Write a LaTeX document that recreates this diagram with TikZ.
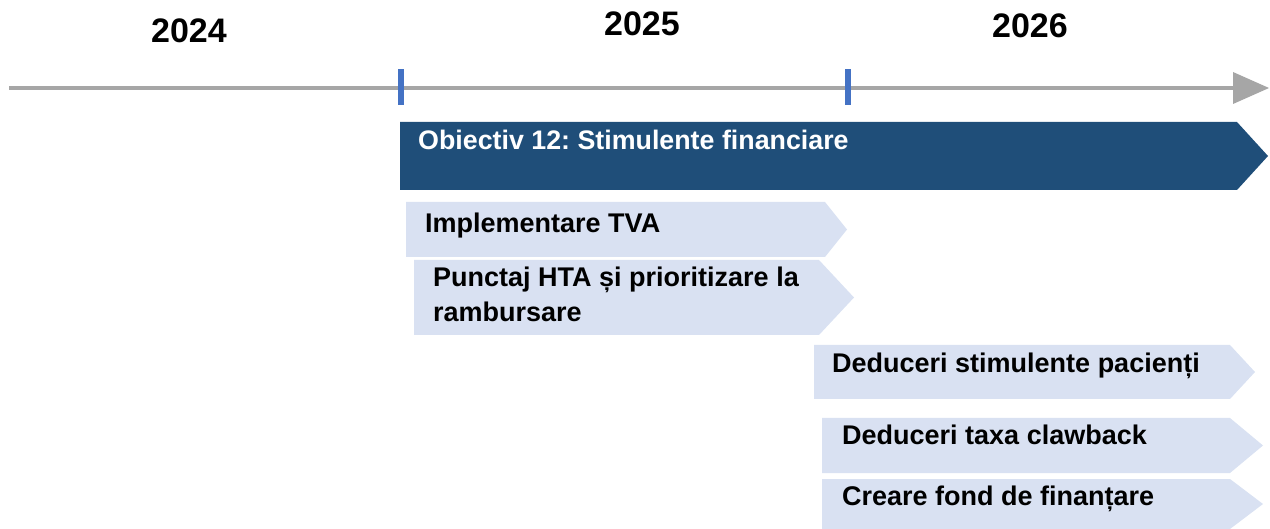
\documentclass[tikz,border=0pt]{standalone}
\usepackage{fontspec}
\setmainfont{Liberation Sans}
\frenchspacing
\definecolor{axisgray}{HTML}{A6A6A6}
\definecolor{tickblue}{HTML}{4472C4}
\definecolor{darkblue}{HTML}{1F4E79}
\definecolor{lightblue}{HTML}{D9E1F2}
\begin{document}
\begin{tikzpicture}[x=1pt,y=-1pt,
  year/.style={font=\fontsize{34}{40}\selectfont\bfseries, text=black, inner sep=0pt},
  task/.style={font=\fontsize{27}{35}\selectfont\bfseries, text=black, inner sep=0pt, anchor=base west, align=left},
  title/.style={font=\fontsize{26.8}{35}\selectfont\bfseries, text=white, inner sep=0pt, anchor=base west},
  lightbox/.style={fill=lightblue, draw=none},
  tickmark/.style={fill=tickblue, draw=none}]
\useasboundingbox (0,0) rectangle (1270,529);
% axis
\coordinate (axL) at (9,88);
\coordinate (axR) at (1234,88);
\draw[axisgray, line width=4pt] (axL) -- (axR);
\fill[axisgray] (1233,72) -- (1269,88) -- (1233,104) -- cycle;
% ticks
\fill[tickmark] (398,69) rectangle (404,105);
\fill[tickmark] (845,69) rectangle (851,105);
% years
\node[year] (y2024) at (189,31) {2024};
\node[year] (y2025) at (642,24) {2025};
\node[year] (y2026) at (1030,26) {2026};
% objective banner
\fill[darkblue] (400,122) -- (1237,122) -- (1268,156) -- (1237,190) -- (400,190) -- cycle;
\node[title] (obj) at (418,150) {Obiectiv 12: Stimulente financiare};
% tasks
\fill[lightbox] (406,202) -- (825,202) -- (847,229.5) -- (825,257) -- (406,257) -- cycle;
\node[task] (t1) at (425,233) {Implementare TVA};
\fill[lightbox] (414,260) -- (819,260) -- (854,297.5) -- (819,335) -- (414,335) -- cycle;
\node[task] (t2) at (433,287) {Punctaj HTA și prioritizare la};
\node[task] (t2b) at (433,322) {rambursare};
\fill[lightbox] (814,345) -- (1230,345) -- (1255,372) -- (1230,399) -- (814,399) -- cycle;
\node[task] (t3) at (832,373) {Deduceri stimulente pacienți};
\fill[lightbox] (822,418) -- (1230,418) -- (1263,445.5) -- (1230,473) -- (822,473) -- cycle;
\node[task] (t4) at (842,445) {Deduceri taxa clawback};
\fill[lightbox] (822,479) -- (1230,479) -- (1263,504) -- (1230,529) -- (822,529) -- cycle;
\node[task] (t5) at (842,505) {Creare fond de finanțare};
\end{tikzpicture}
\end{document}
